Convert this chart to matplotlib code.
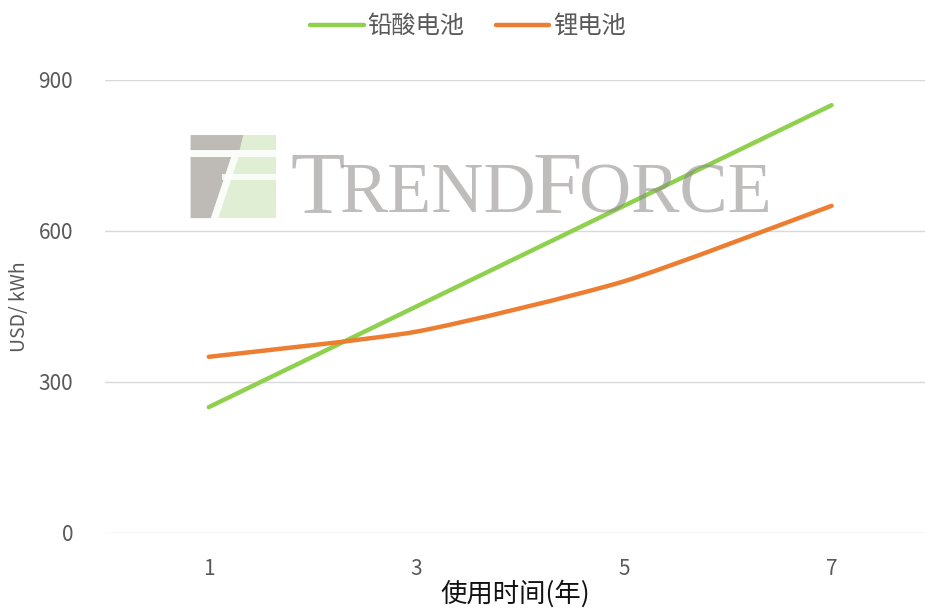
import matplotlib.pyplot as plt
from matplotlib.path import Path
from matplotlib.patches import PathPatch, Rectangle, Polygon
from matplotlib.lines import Line2D
import numpy as np

plt.rcParams['font.family'] = ['Noto Sans CJK SC', 'DejaVu Sans']

# data
years = ['1', '3', '5', '7']
lead_acid = [250, 450, 650, 850]
lithium = [350, 400, 500, 650]
series_names = ['铅酸电池', '锂电池']
series_colors = ['#8fd14f', '#ed7d31']


def smooth_path(xs, ys, k=1 / 10):
    # smoothed line: cubic bezier, control points from neighbours
    xs = list(xs)
    ys = list(ys)
    n = len(xs)
    verts = [(xs[0], ys[0])]
    codes = [Path.MOVETO]
    for i in range(n - 1):
        x0, y0 = (xs[i - 1], ys[i - 1]) if i > 0 else (xs[i], ys[i])
        x1, y1 = xs[i], ys[i]
        x2, y2 = xs[i + 1], ys[i + 1]
        x3, y3 = (xs[i + 2], ys[i + 2]) if i + 2 < n else (x2, y2)
        c1 = (x1 + (x2 - x0) * k, y1 + (y2 - y0) * k)
        c2 = (x2 - (x3 - x1) * k, y2 - (y3 - y1) * k)
        verts += [c1, c2, (x2, y2)]
        codes += [Path.CURVE4] * 3
    return Path(verts, codes)


fig = plt.figure(figsize=(9.25, 6.11), dpi=100)
ax = fig.add_axes([0.1135, 0.1277, 0.8865, 0.7414])

x = np.arange(len(years))
for vals, c in zip([lead_acid, lithium], series_colors):
    p = PathPatch(smooth_path(x, vals), facecolor='none', edgecolor=c,
                  linewidth=3.2, capstyle='round', joinstyle='round', zorder=3)
    ax.add_patch(p)

ax.set_xlim(-0.5, 3.45)
ax.set_ylim(0, 900)
ax.set_yticks([0, 300, 600, 900])
ax.set_xticks(x)
ax.set_xticklabels(years)
ax.grid(axis='y', color='#d9d9d9', linewidth=1)
ax.set_axisbelow(True)
for s in ax.spines.values():
    s.set_visible(False)
ax.tick_params(axis='both', length=0, colors='#595959', labelsize=15)
ax.tick_params(axis='y', pad=23)
ax.tick_params(axis='x', pad=18)
ax.set_ylabel('USD/ kWh', color='#595959', fontsize=14, labelpad=6)
ax.set_xlabel('使用时间(年)', color='#111111', fontsize=19, labelpad=0)

# watermark
wm_color = '#8c8785'
wm = dict(family='Liberation Serif', color=wm_color, alpha=0.55, va='baseline', zorder=10)
fig.text(0.3135, 0.653, 'T', fontsize=64, **wm)
fig.text(0.3675, 0.653, 'REND', fontsize=52, **wm)
fig.text(0.576, 0.653, 'F', fontsize=64, **wm)
fig.text(0.626, 0.653, 'ORCE', fontsize=52, **wm)
logo = dict(transform=fig.transFigure, edgecolor='none', alpha=0.85, zorder=9)
fig.patches.append(Rectangle((0.206, 0.643), 0.092, 0.136, facecolor='#dbeccd', **logo))
fig.patches.append(Polygon([(0.206, 0.779), (0.263, 0.779), (0.259, 0.754), (0.206, 0.754)],
                           facecolor='#b8b3b1', **logo))
fig.patches.append(Polygon([(0.206, 0.743), (0.250, 0.743), (0.228, 0.643), (0.206, 0.643)],
                           facecolor='#b8b3b1', **logo))
fig.patches.append(Polygon([(0.250, 0.743), (0.258, 0.743), (0.236, 0.643), (0.228, 0.643)],
                           facecolor='white', **logo))
fig.patches.append(Rectangle((0.206, 0.743), 0.092, 0.011, facecolor='white', **logo))
fig.patches.append(Rectangle((0.240, 0.705), 0.058, 0.011, facecolor='white', **logo))

# legend
handles = [Line2D([], [], color=c, linewidth=3.2, solid_capstyle='round') for c in series_colors]
fig.legend(handles, series_names, loc='upper center', bbox_to_anchor=(0.506, 1.014), ncol=2,
           frameon=False, fontsize=17.5, labelcolor='#595959', handlelength=2.2,
           columnspacing=1.3, handletextpad=0.15)

fig.savefig('out.png', dpi=100)
